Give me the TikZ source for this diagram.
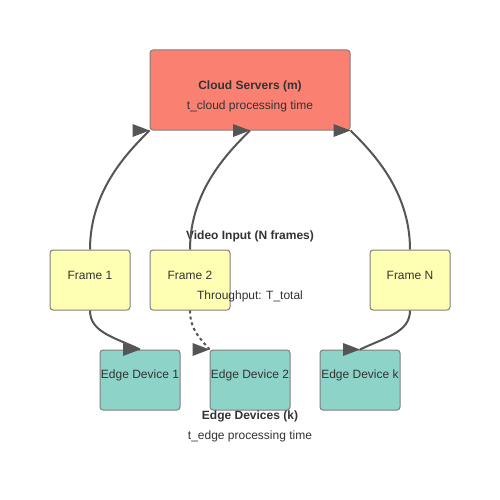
\documentclass[tikz,border=0pt]{standalone}
\usepackage{fontspec}
\setmainfont{Liberation Sans}
\begin{document}
\begin{tikzpicture}[x=1pt,y=-1pt,
  box/.style={draw=boxline,line width=1pt,rounded corners=3pt,inner sep=0pt,minimum width=80pt,minimum height=60pt},
  cloudbox/.style={box,fill=cloudfill,minimum width=200pt,minimum height=80pt},
  framebox/.style={box,fill=framefill},
  edgebox/.style={box,fill=edgefill},
  lab/.style={text=txt,font=\fontsize{12}{14}\selectfont,yshift=5pt,inner sep=0pt},
  txtn/.style={text=txt,font=\fontsize{12}{14}\selectfont,inner sep=0pt},
  boldn/.style={text=txt,font=\fontsize{12}{14}\selectfont\bfseries,inner sep=0pt},
  conn/.style={draw=arrc,line width=2pt},
]
\definecolor{boxline}{HTML}{7F7F7F}
\definecolor{cloudfill}{HTML}{FA8072}
\definecolor{framefill}{HTML}{FFFFB3}
\definecolor{edgefill}{HTML}{8DD3C7}
\definecolor{txt}{HTML}{333333}
\definecolor{arrc}{HTML}{555555}
\useasboundingbox (0,0) rectangle (500,500);
\fill[white] (0,0) rectangle (500,500);

% nodes
\node[cloudbox] (cloud) at (250,90) {};
\node[boldn] (cloudt) at (250,86) {Cloud Servers (m)};
\node[txtn] (clouds) at (250,106) {t\_cloud processing time};

\node[framebox,label={[lab]center:Frame 1}] (f1) at (90,280) {};
\node[framebox,label={[lab]center:Frame 2}] (f2) at (190,280) {};
\node[framebox,label={[lab]center:Frame N}] (fn) at (410,280) {};

\node[edgebox,label={[lab]center:Edge Device 1}] (e1) at (140,380) {};
\node[edgebox,label={[lab]center:Edge Device 2}] (e2) at (250,380) {};
\node[edgebox,label={[lab]center:Edge Device k}] (ek) at (360,380) {};

\node[boldn] (vin) at (250,236) {Video Input (N frames)};
\node[txtn] (thr) at (250,296) {Throughput: T\_total};
\node[boldn] (edt) at (250,416) {Edge Devices (k)};
\node[txtn] (eds) at (250,436) {t\_edge processing time};

% connectors
\draw[conn] (f1.north) .. controls +(0,-60) and +(-20,20) .. (cloud.south west);
\draw[conn] (f2.north) .. controls +(0,-60) and +(-20,20) .. (cloud.south);
\draw[conn] (fn.north) .. controls +(0,-60) and +(20,20) .. (cloud.south east);
\draw[conn] (f1.south) .. controls +(0,22) and +(-25,-12) .. (e1.north);
\draw[conn,dash pattern=on 3pt off 3pt] (f2.south) .. controls +(0,20) and +(-8,-10) .. (e2.north west);
\draw[conn] (fn.south) .. controls +(0,22) and +(25,-12) .. (ek.north);

% arrowheads
\foreach \t in {cloud.south west,cloud.south,cloud.south east,e1.north,e2.north west,ek.north}{
  \fill[arrc] (\t) -- ++(-17,-6.5) -- ++(0,13) -- cycle;
}
\end{tikzpicture}
\end{document}
